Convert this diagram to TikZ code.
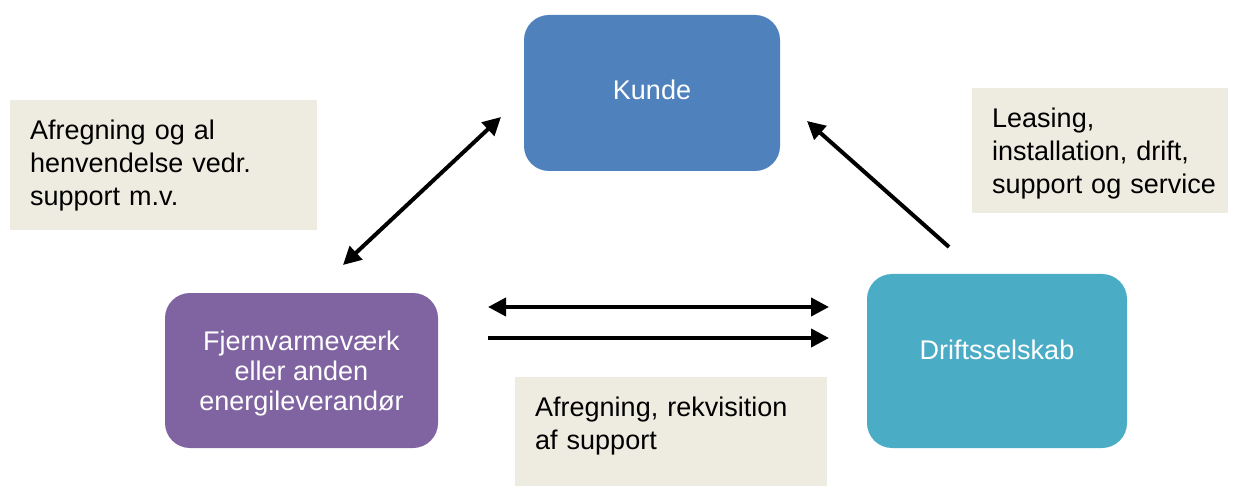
\documentclass[tikz,border=0pt]{standalone}
\usepackage{fontspec}
\setmainfont{Liberation Sans}
\usetikzlibrary{arrows.meta}

\definecolor{KundeBlue}{HTML}{4F81BD}
\definecolor{FjernPurple}{HTML}{8064A2}
\definecolor{DriftTeal}{HTML}{4BACC6}
\definecolor{NoteBeige}{HTML}{EEECE1}

\begin{document}
\begin{tikzpicture}[x=1pt,y=-1pt,>={Triangle[length=18pt,width=18pt]}]
  \tikzset{PartyStyle/.style = {
    shape         = rectangle,
    rounded corners = 25pt,
    draw          = none,
    text          = white,
    align         = center,
    inner sep     = 0pt,
    outer sep     = 0pt,
    font          = \fontsize{27}{30}\selectfont
    }
  }
  \tikzset{NoteStyle/.style = {
    shape         = rectangle,
    fill          = NoteBeige,
    anchor        = north west,
    align         = left,
    inner xsep    = 20pt,
    inner ysep    = 20pt,
    text height   = 19.5pt,
    text          = black,
    font          = \fontsize{27}{33}\selectfont
    }
  }
  \tikzset{ArrowStyle/.style = {
    draw          = black,
    line width    = 4pt
    }
  }

  \useasboundingbox (0,0) rectangle (1239,486);

  \node[PartyStyle, fill=KundeBlue, minimum width=256pt, minimum height=156pt,
        text depth=6pt](Kunde) at (652,93) {Kunde};
  \node[PartyStyle, fill=FjernPurple, minimum width=273pt, minimum height=155pt,
        text depth=0pt](Fjern) at (301.5,370.5)
        {Fjernvarmeværk\\eller anden\\energileverandør};
  \node[PartyStyle, fill=DriftTeal, minimum width=260pt, minimum height=174pt,
        text depth=22pt](Drift) at (997,361) {Driftsselskab};

  \node[NoteStyle, text width=267pt, text depth=70.5pt](N1) at (10,100)
        {Afregning og al\\henvendelse vedr.\\support m.v.};
  \node[NoteStyle, text width=216pt, text depth=65.5pt](N2) at (972,88)
        {Leasing,\\installation, drift,\\\mbox{support og service}};
  \node[NoteStyle, text width=272pt, text depth=49.5pt](N3) at (515,377)
        {Afregning, rekvisition\\af support};

  \coordinate (FK1) at (343,265);
  \coordinate (FK2) at (501,117);
  \coordinate (DK1) at (949,247);
  \coordinate (DK2) at (807,121);
  \coordinate (FD1) at (488,307);
  \coordinate (FD2) at (829,307);
  \coordinate (FD3) at (488,338);
  \coordinate (FD4) at (829,338);

  \draw[ArrowStyle, <->](FK1) -- (FK2);
  \draw[ArrowStyle, ->](DK1) -- (DK2);
  \draw[ArrowStyle, <->](FD1) -- (FD2);
  \draw[ArrowStyle, ->](FD3) -- (FD4);

\end{tikzpicture}
\end{document}
